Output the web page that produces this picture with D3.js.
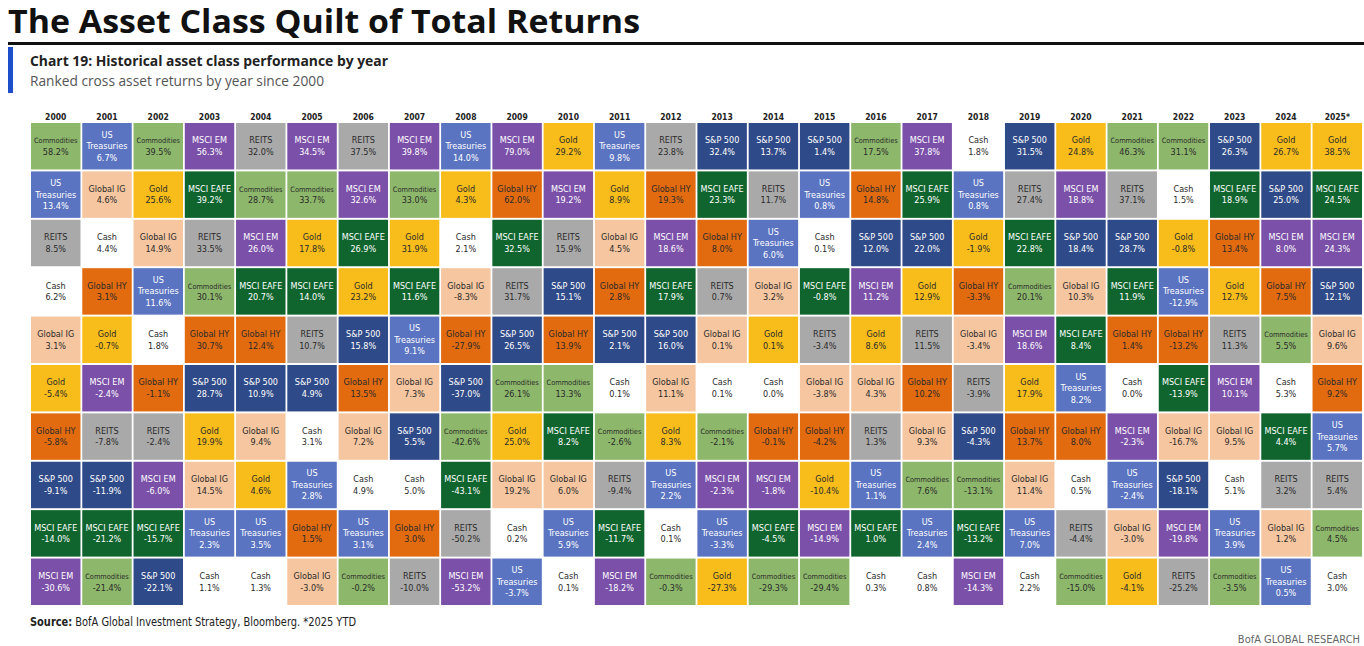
<!DOCTYPE html>
<html>
<head>
<meta charset="utf-8">
<script src="https://cdn.jsdelivr.net/npm/d3@7"></script>
<style>
    body { margin: 0; background: #fff; }
    svg { display: block; }
</style>
</head>
<body>
<svg id="chart" width="1364" height="646"></svg>
<script>
const years = ["2000", "2001", "2002", "2003", "2004", "2005", "2006", "2007", "2008", "2009", "2010", "2011", "2012",
    "2013", "2014", "2015", "2016", "2017", "2018", "2019", "2020", "2021", "2022", "2023", "2024", "2025*"];

const assetLabels = {
    COM: ["Commodities"], UST: ["US", "Treasuries"], REIT: ["REITS"], CASH: ["Cash"], GIG: ["Global IG"],
    GOLD: ["Gold"], GHY: ["Global HY"], SPX: ["S&P 500"], EAFE: ["MSCI EAFE"], EM: ["MSCI EM"]
};

const assetColors = {
    COM: "#8db86b", UST: "#5a74c2", REIT: "#a9a9a9", CASH: "#ffffff", GIG: "#f6c6a0",
    GOLD: "#f8bd1a", GHY: "#e26b10", SPX: "#2f4a88", EAFE: "#0f652d", EM: "#7b50a9"
};

const lightTextAssets = ["UST", "SPX", "EAFE", "EM"];

// ranked top -> bottom, one row per year
const rankedAssets = [
    ["COM", "UST", "REIT", "CASH", "GIG", "GOLD", "GHY", "SPX", "EAFE", "EM"],
    ["UST", "GIG", "CASH", "GHY", "GOLD", "EM", "REIT", "SPX", "EAFE", "COM"],
    ["COM", "GOLD", "GIG", "UST", "CASH", "GHY", "REIT", "EM", "EAFE", "SPX"],
    ["EM", "EAFE", "REIT", "COM", "GHY", "SPX", "GOLD", "GIG", "UST", "CASH"],
    ["REIT", "COM", "EM", "EAFE", "GHY", "SPX", "GIG", "GOLD", "UST", "CASH"],
    ["EM", "COM", "GOLD", "EAFE", "REIT", "SPX", "CASH", "UST", "GHY", "GIG"],
    ["REIT", "EM", "EAFE", "GOLD", "SPX", "GHY", "GIG", "CASH", "UST", "COM"],
    ["EM", "COM", "GOLD", "EAFE", "UST", "GIG", "SPX", "CASH", "GHY", "REIT"],
    ["UST", "GOLD", "CASH", "GIG", "GHY", "SPX", "COM", "EAFE", "REIT", "EM"],
    ["EM", "GHY", "EAFE", "REIT", "SPX", "COM", "GOLD", "GIG", "CASH", "UST"],
    ["GOLD", "EM", "REIT", "SPX", "GHY", "COM", "EAFE", "GIG", "UST", "CASH"],
    ["UST", "GOLD", "GIG", "GHY", "SPX", "CASH", "COM", "REIT", "EAFE", "EM"],
    ["REIT", "GHY", "EM", "EAFE", "SPX", "GIG", "GOLD", "UST", "CASH", "COM"],
    ["SPX", "EAFE", "GHY", "REIT", "GIG", "CASH", "COM", "EM", "UST", "GOLD"],
    ["SPX", "REIT", "UST", "GIG", "GOLD", "CASH", "GHY", "EM", "EAFE", "COM"],
    ["SPX", "UST", "CASH", "EAFE", "REIT", "GIG", "GHY", "GOLD", "EM", "COM"],
    ["COM", "GHY", "SPX", "EM", "GOLD", "GIG", "REIT", "UST", "EAFE", "CASH"],
    ["EM", "EAFE", "SPX", "GOLD", "REIT", "GHY", "GIG", "COM", "UST", "CASH"],
    ["CASH", "UST", "GOLD", "GHY", "GIG", "REIT", "SPX", "COM", "EAFE", "EM"],
    ["SPX", "REIT", "EAFE", "COM", "EM", "GOLD", "GHY", "GIG", "UST", "CASH"],
    ["GOLD", "EM", "SPX", "GIG", "EAFE", "UST", "GHY", "CASH", "REIT", "COM"],
    ["COM", "REIT", "SPX", "EAFE", "GHY", "CASH", "EM", "UST", "GIG", "GOLD"],
    ["COM", "CASH", "GOLD", "UST", "GHY", "EAFE", "GIG", "SPX", "EM", "REIT"],
    ["SPX", "EAFE", "GHY", "GOLD", "REIT", "EM", "GIG", "CASH", "UST", "COM"],
    ["GOLD", "SPX", "EM", "GHY", "COM", "CASH", "EAFE", "REIT", "GIG", "UST"],
    ["GOLD", "EAFE", "EM", "SPX", "GIG", "GHY", "UST", "REIT", "COM", "CASH"]
];

const rankedReturns = [
    [58.2, 13.4, 8.5, 6.2, 3.1, -5.4, -5.8, -9.1, -14.0, -30.6],
    [6.7, 4.6, 4.4, 3.1, -0.7, -2.4, -7.8, -11.9, -21.2, -21.4],
    [39.5, 25.6, 14.9, 11.6, 1.8, -1.1, -2.4, -6.0, -15.7, -22.1],
    [56.3, 39.2, 33.5, 30.1, 30.7, 28.7, 19.9, 14.5, 2.3, 1.1],
    [32.0, 28.7, 26.0, 20.7, 12.4, 10.9, 9.4, 4.6, 3.5, 1.3],
    [34.5, 33.7, 17.8, 14.0, 10.7, 4.9, 3.1, 2.8, 1.5, -3.0],
    [37.5, 32.6, 26.9, 23.2, 15.8, 13.5, 7.2, 4.9, 3.1, -0.2],
    [39.8, 33.0, 31.9, 11.6, 9.1, 7.3, 5.5, 5.0, 3.0, -10.0],
    [14.0, 4.3, 2.1, -8.3, -27.9, -37.0, -42.6, -43.1, -50.2, -53.2],
    [79.0, 62.0, 32.5, 31.7, 26.5, 26.1, 25.0, 19.2, 0.2, -3.7],
    [29.2, 19.2, 15.9, 15.1, 13.9, 13.3, 8.2, 6.0, 5.9, 0.1],
    [9.8, 8.9, 4.5, 2.8, 2.1, 0.1, -2.6, -9.4, -11.7, -18.2],
    [23.8, 19.3, 18.6, 17.9, 16.0, 11.1, 8.3, 2.2, 0.1, -0.3],
    [32.4, 23.3, 8.0, 0.7, 0.1, 0.1, -2.1, -2.3, -3.3, -27.3],
    [13.7, 11.7, 6.0, 3.2, 0.1, 0.0, -0.1, -1.8, -4.5, -29.3],
    [1.4, 0.8, 0.1, -0.8, -3.4, -3.8, -4.2, -10.4, -14.9, -29.4],
    [17.5, 14.8, 12.0, 11.2, 8.6, 4.3, 1.3, 1.1, 1.0, 0.3],
    [37.8, 25.9, 22.0, 12.9, 11.5, 10.2, 9.3, 7.6, 2.4, 0.8],
    [1.8, 0.8, -1.9, -3.3, -3.4, -3.9, -4.3, -13.1, -13.2, -14.3],
    [31.5, 27.4, 22.8, 20.1, 18.6, 17.9, 13.7, 11.4, 7.0, 2.2],
    [24.8, 18.8, 18.4, 10.3, 8.4, 8.2, 8.0, 0.5, -4.4, -15.0],
    [46.3, 37.1, 28.7, 11.9, 1.4, 0.0, -2.3, -2.4, -3.0, -4.1],
    [31.1, 1.5, -0.8, -12.9, -13.2, -13.9, -16.7, -18.1, -19.8, -25.2],
    [26.3, 18.9, 13.4, 12.7, 11.3, 10.1, 9.5, 5.1, 3.9, -3.5],
    [26.7, 25.0, 8.0, 7.5, 5.5, 5.3, 4.4, 3.2, 1.2, 0.5],
    [38.5, 24.5, 24.3, 12.1, 9.6, 9.2, 5.7, 5.4, 4.5, 3.0]
];

const NARROW = '"Liberation Sans Narrow", "Arial Narrow", "DejaVu Sans Condensed", sans-serif';
const CELL_FONT = 9;
const svg = d3.select("#chart");
const fmt = v => d3.format(".1f")(v).replace("\u2212", "-") + "%";

// shrink the font of a label that runs wider than the room it has
function fitWidth(sel, maxW) {
    sel.each(function () {
        const w = this.getComputedTextLength();
        if (w > maxW) d3.select(this).attr("font-size", CELL_FONT * maxW / w);
    });
}

// --- header ---
svg.append("text")
    .attr("x", 8).attr("y", 33)
    .attr("font-family", '"Open Sans", sans-serif').attr("font-weight", 700).attr("font-size", 32)
    .attr("fill", "#111")
    .attr("textLength", 632).attr("lengthAdjust", "spacingAndGlyphs")
    .text("The Asset Class Quilt of Total Returns");

svg.append("rect").attr("x", 8).attr("y", 42).attr("width", 1356).attr("height", 3).attr("fill", "#111");
svg.append("rect").attr("x", 8).attr("y", 47).attr("width", 5).attr("height", 46).attr("fill", "#1c4fc9");

svg.append("text")
    .attr("x", 30).attr("y", 66)
    .attr("font-family", '"Open Sans", sans-serif').attr("font-weight", 700).attr("font-size", 15)
    .attr("fill", "#222")
    .attr("textLength", 358).attr("lengthAdjust", "spacingAndGlyphs")
    .text("Chart 19: Historical asset class performance by year");

svg.append("text")
    .attr("x", 30).attr("y", 86)
    .attr("font-family", '"Open Sans", sans-serif').attr("font-size", 14)
    .attr("fill", "#555")
    .attr("textLength", 294).attr("lengthAdjust", "spacingAndGlyphs")
    .text("Ranked cross asset returns by year since 2000");

// --- quilt ---
const x = d3.scaleBand().domain(years).range([31, 1362]).paddingInner(0.035);
const y = d3.scaleBand().domain(d3.range(10)).range([123, 605]).paddingInner(0.04);

svg.append("g").selectAll("text").data(years).join("text")
    .attr("x", d => x(d) + x.bandwidth() / 2)
    .attr("y", 120)
    .attr("text-anchor", "middle")
    .attr("font-family", NARROW).attr("font-weight", 700).attr("font-size", 8.5)
    .attr("fill", "#222")
    .text(d => d);

const cells = years.flatMap((yr, i) => rankedAssets[i].map((a, r) => ({
    year: yr, rank: r, asset: a, value: rankedReturns[i][r]
})));

const cell = svg.append("g").selectAll("g").data(cells).join("g")
    .attr("transform", d => `translate(${x(d.year)}, ${y(d.rank)})`);

cell.append("rect")
    .attr("width", x.bandwidth())
    .attr("height", y.bandwidth())
    .attr("fill", d => assetColors[d.asset]);

const LINE = 11.5;
cell.each(function (d) {
    const g = d3.select(this);
    const lines = assetLabels[d.asset].concat([fmt(d.value)]);
    const top = y.bandwidth() / 2 - (lines.length - 1) * LINE / 2 + 3;
    const color = lightTextAssets.includes(d.asset) ? "#fff" : "#2a2a2a";
    lines.forEach((t, k) => {
        g.append("text")
            .attr("x", x.bandwidth() / 2)
            .attr("y", top + k * LINE)
            .attr("text-anchor", "middle")
            .attr("font-family", NARROW).attr("font-size", CELL_FONT)
            .attr("fill", color)
            .text(t)
            .call(fitWidth, x.bandwidth() - 6);
    });
});

// --- footer ---
const src = svg.append("text")
    .attr("x", 30).attr("y", 626)
    .attr("font-family", NARROW).attr("font-size", 12)
    .attr("fill", "#222")
    .attr("textLength", 326).attr("lengthAdjust", "spacingAndGlyphs");
src.append("tspan").attr("font-weight", 700).text("Source:");
src.append("tspan").text(" BofA Global Investment Strategy, Bloomberg. *2025 YTD");

svg.append("text")
    .attr("x", 1360).attr("y", 643)
    .attr("text-anchor", "end")
    .attr("font-family", NARROW).attr("font-size", 11)
    .attr("fill", "#666")
    .text("BofA GLOBAL RESEARCH");
</script>
</body>
</html>
